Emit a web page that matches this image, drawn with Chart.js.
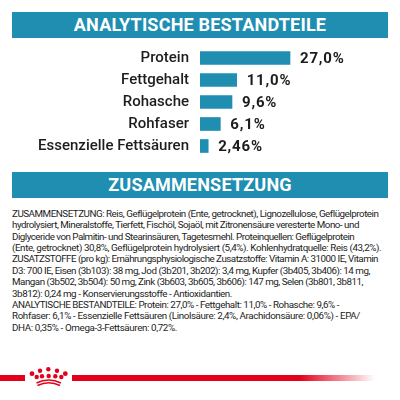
<!DOCTYPE html>
<html lang="de">
<head>
<meta charset="utf-8">
<title>Analytische Bestandteile</title>
<script src="https://cdn.jsdelivr.net/npm/chart.js@4/dist/chart.umd.min.js"></script>
<style>
  html, body { margin: 0; padding: 0; background: #fff; }
  body { position: relative; width: 400px; height: 400px; overflow: hidden; font-family: Roboto, sans-serif; }
  .band {
    position: absolute; left: 12px; width: 376px; height: 26px; line-height: 26px;
    background: #1f8eb1; color: #fff; text-align: center;
    font-weight: 700; font-size: 18px; letter-spacing: 0.2px;
  }
  #chartBox { position: absolute; left: 0; top: 47px; width: 400px; height: 110px; }
  #ingredients { position: absolute; left: 12px; top: 208px; font-size: 9.8px; line-height: 11.37px; color: #1d1d1b; white-space: nowrap; }
  #ingredients div { height: 11.37px; }
  #redLeft { position: absolute; left: 0; top: 375px; width: 25px; height: 6px; background: #e2001a; }
  #redRight { position: absolute; left: 72px; top: 375px; width: 303px; height: 6px; background: linear-gradient(to right, #e2001a 0%, #e2001a 75%, rgba(226,0,26,0) 100%); }
  #crown { position: absolute; left: 28px; top: 366px; }
</style>
</head>
<body>
<div class="band" style="top:12px">ANALYTISCHE BESTANDTEILE</div>
<div id="chartBox"><canvas id="nutrients"></canvas></div>
<div class="band" style="top:172px">ZUSAMMENSETZUNG</div>
<div id="ingredients"></div>
<div id="redLeft"></div>
<svg id="crown" width="42" height="28" viewBox="0 0 42 28">
  <g fill="#e2001a">
    <circle cx="4" cy="7.7" r="2.4"/><circle cx="37.3" cy="7.7" r="2.4"/>
    <circle cx="12" cy="4.7" r="2.2"/><circle cx="20.3" cy="3.3" r="2.2"/><circle cx="29" cy="4.7" r="2.2"/>
    <circle cx="8.7" cy="11" r="2.2"/><circle cx="14" cy="10.3" r="2.2"/><circle cx="20.7" cy="10" r="2.2"/>
    <circle cx="27.3" cy="10.3" r="2.2"/><circle cx="33.3" cy="11" r="2.2"/>
  </g>
  <path d="M8.5 17 Q20.7 11 33 17 M9.5 19.5 Q20.7 14 32 19.5" fill="none" stroke="#e2001a" stroke-width="1.5"/>
</svg>
<div id="redRight"></div>
<script>
const categories = ["Protein", "Fettgehalt", "Rohasche", "Rohfaser", "Essenzielle Fettsäuren"];
const values = [27.0, 11.0, 9.6, 6.1, 2.46];
const valueLabels = ["27,0%", "11,0%", "9,6%", "6,1%", "2,46%"];

const textLines = [
  "ZUSAMMENSETZUNG: Reis, Geflügelprotein (Ente, getrocknet), Lignozellulose, Geflügelprotein",
  "hydrolysiert, Mineralstoffe, Tierfett, Fischöl, Sojaöl, mit Zitronensäure veresterte Mono- und",
  "Diglyceride von Palmitin- und Stearinsäuren, Tagetesmehl. Proteinquellen: Geflügelprotein",
  "(Ente, getrocknet) 30,8%, Geflügelprotein hydrolysiert (5,4%). Kohlenhydratquelle: Reis (43,2%).",
  "ZUSATZSTOFFE (pro kg): Ernährungsphysiologische Zusatzstoffe: Vitamin A: 31000 IE, Vitamin",
  "D3: 700 IE, Eisen (3b103): 38 mg, Jod (3b201, 3b202): 3,4 mg, Kupfer (3b405, 3b406): 14 mg,",
  "Mangan (3b502, 3b504): 50 mg, Zink (3b603, 3b605, 3b606): 147 mg, Selen (3b801, 3b811,",
  "3b812): 0,24 mg - Konservierungsstoffe - Antioxidantien.",
  "ANALYTISCHE BESTANDTEILE: Protein: 27,0% - Fettgehalt: 11,0% - Rohasche: 9,6% -",
  "Rohfaser: 6,1% - Essenzielle Fettsäuren (Linolsäure: 2,4%, Arachidonsäure: 0,06%) - EPA/",
  "DHA: 0,35% - Omega-3-Fettsäuren: 0,72%."
];
// width of each text line in the reference, px
const lineWidths = [366, 347, 342, 369, 366, 358, 351, 220, 327, 348, 165];

const box = document.getElementById("ingredients");
textLines.forEach((line, i) => {
  const row = document.createElement("div");
  const span = document.createElement("span");
  span.textContent = line;
  row.appendChild(span);
  box.appendChild(row);
  const extra = (lineWidths[i] - span.getBoundingClientRect().width) / line.length;
  span.style.letterSpacing = extra + "px";
});

// draws the percentages right of each bar
const valueLabelPlugin = {
  id: "valueLabels",
  afterDatasetsDraw(chart) {
    const ctx = chart.ctx;
    const bars = chart.getDatasetMeta(0).data;
    ctx.save();
    ctx.font = "700 15px Roboto";
    ctx.letterSpacing = "0.8px";
    ctx.fillStyle = "#1d1d1b";
    ctx.textBaseline = "middle";
    bars.forEach((bar, i) => {
      ctx.fillText(valueLabels[i], bar.x + 10, bar.y + 1);
    });
    ctx.restore();
  },
};

new Chart(document.getElementById("nutrients"), {
  type: "bar",
  data: {
    labels: categories,
    datasets: [
      {
        data: values,
        backgroundColor: "#1f8eb1",
        barThickness: 13,
      },
    ],
  },
  options: {
    indexAxis: "y",
    responsive: true,
    maintainAspectRatio: false,
    animation: false,
    layout: { padding: 0 },
    scales: {
      x: { display: false, min: 0, max: 60 },
      y: {
        afterFit(scale) {
          // fixed gutter for the names, and no extra room above and below
          scale.width = 200;
          scale.paddingTop = 0;
          scale.paddingBottom = 0;
        },
        grid: { display: false, drawTicks: false },
        border: { display: false },
        ticks: {
          color: "#1d1d1b",
          padding: 11,
          font: { family: "Roboto", size: 15, weight: "500" },
        },
      },
    },
    plugins: {
      legend: { display: false },
      tooltip: { enabled: false },
    },
  },
  plugins: [valueLabelPlugin],
});
</script>
</body>
</html>
